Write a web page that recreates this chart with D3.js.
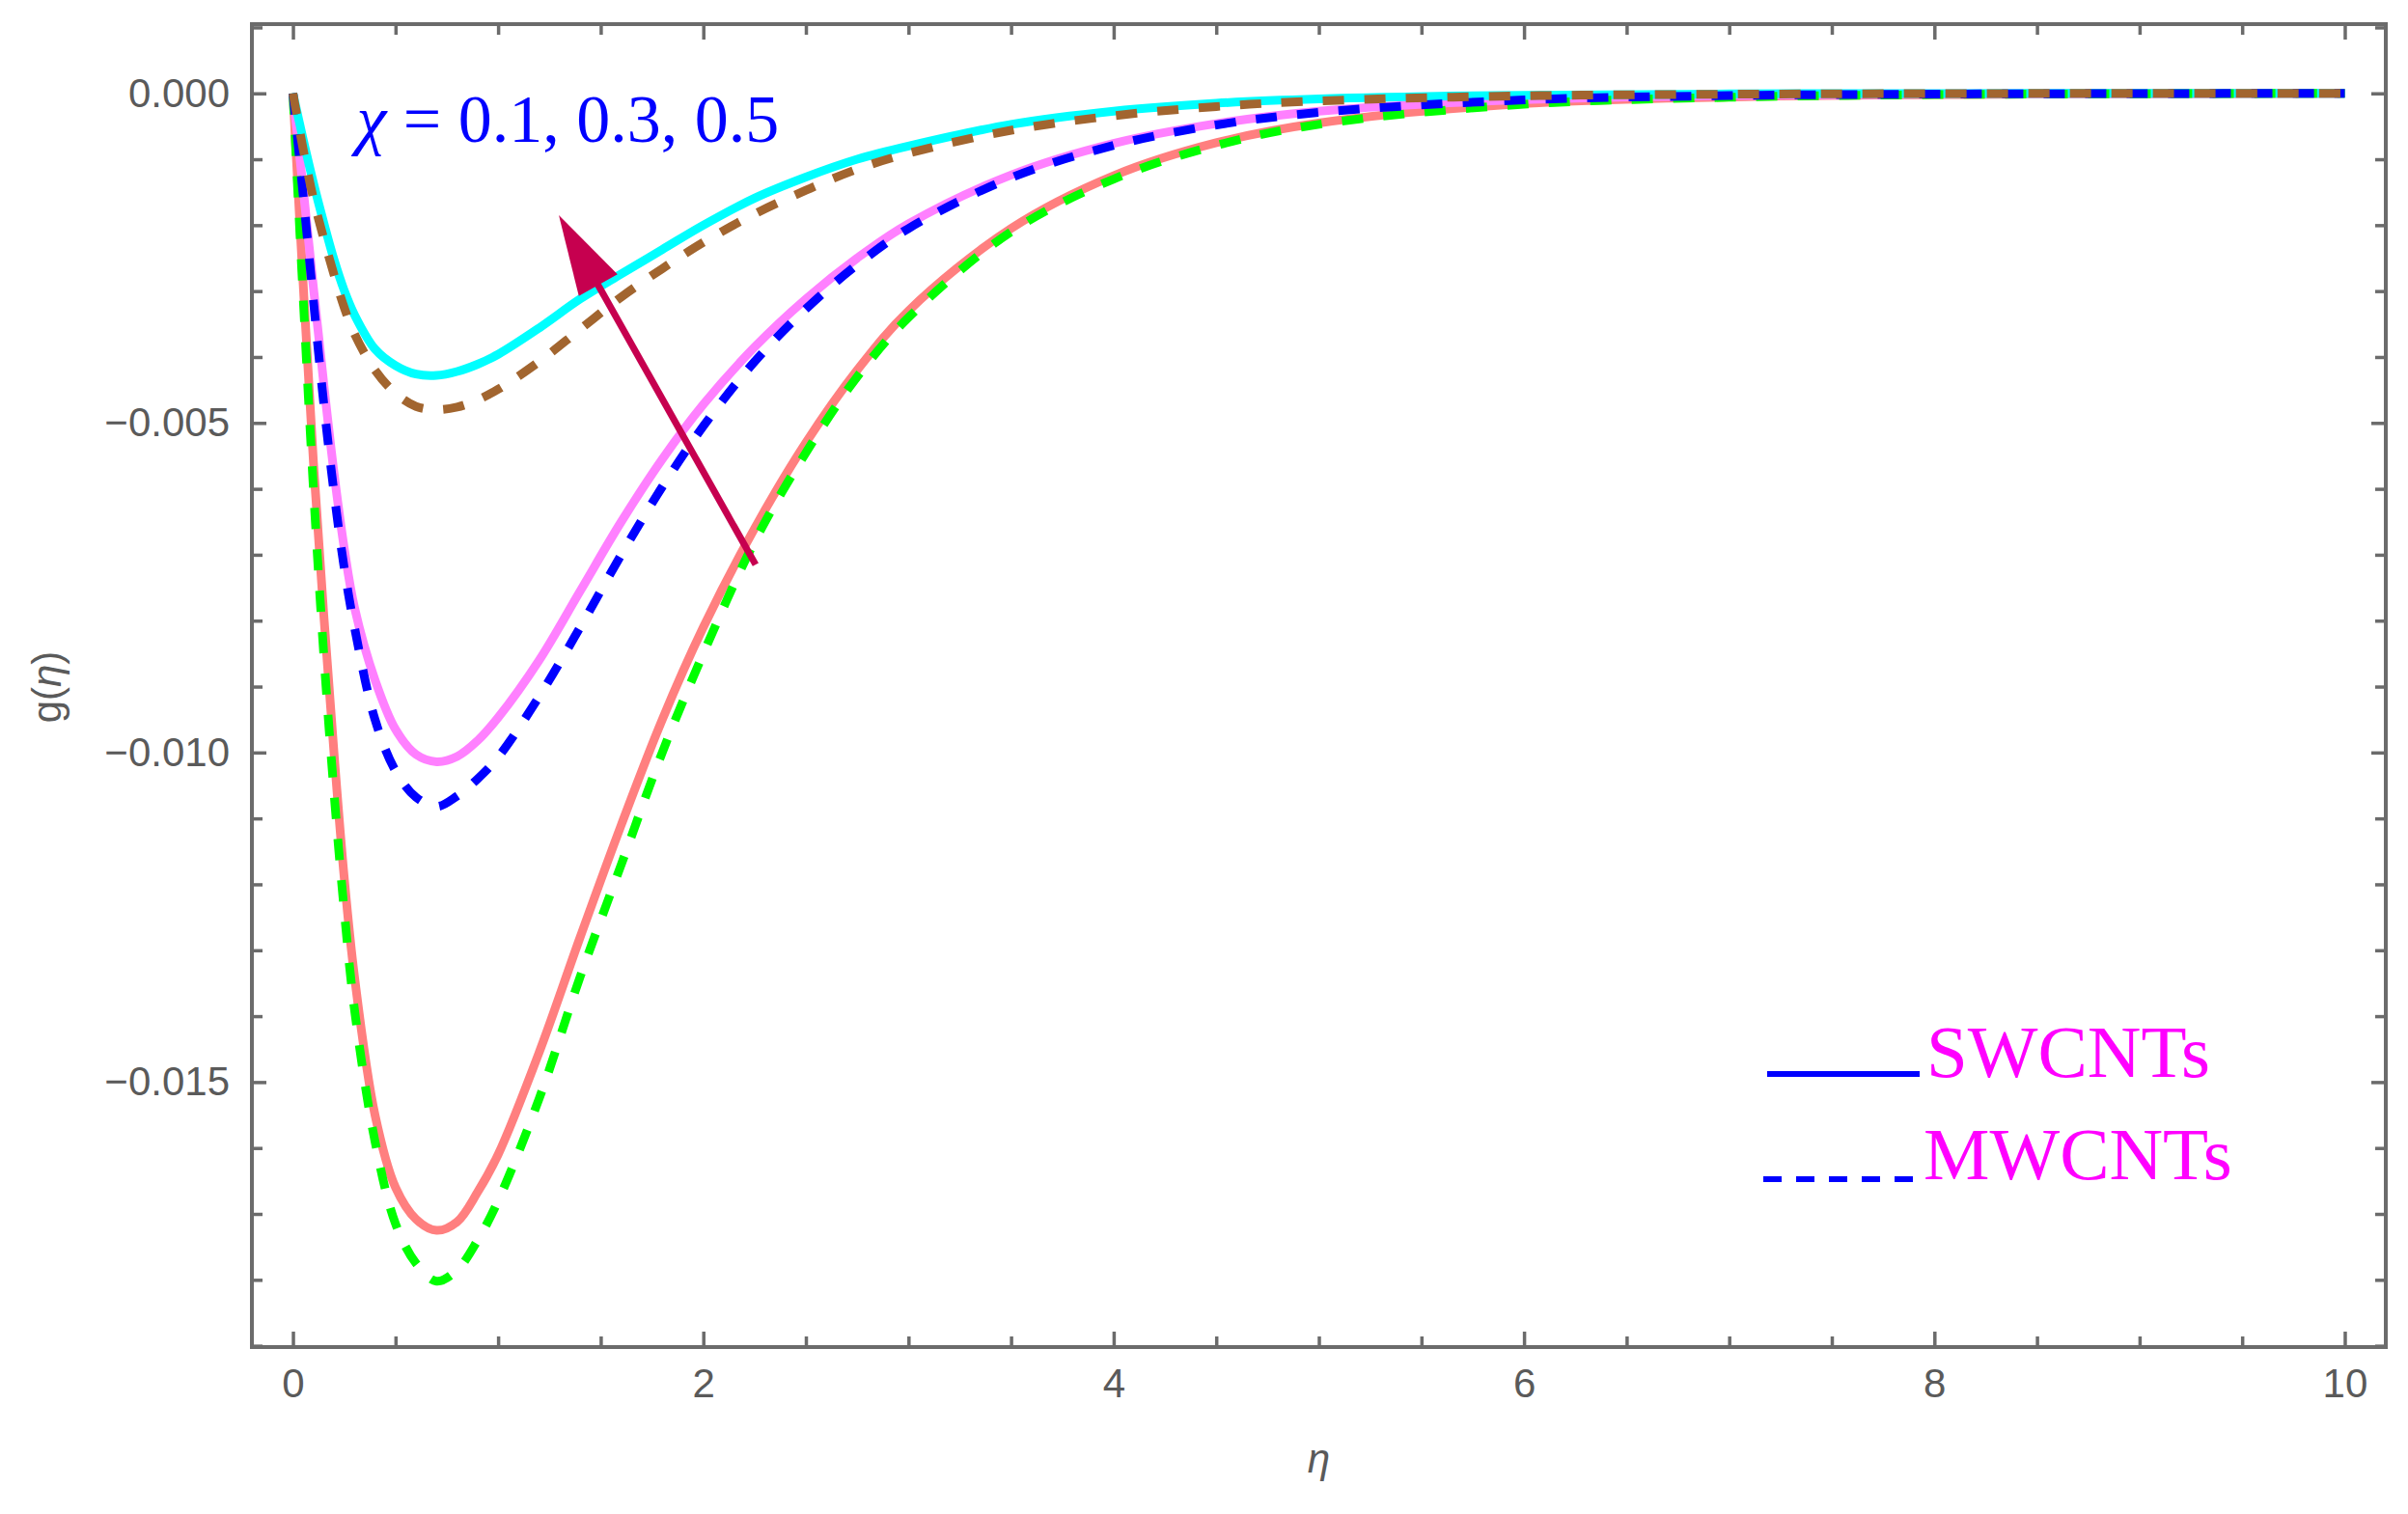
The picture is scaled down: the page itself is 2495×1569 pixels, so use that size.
<!DOCTYPE html>
<meta charset="utf-8">
<style>
body {
  margin: 0;
  background: #fff;
}
svg { display: block; }
</style>
<body>
<div id="chart"></div>
<script src="https://cdn.jsdelivr.net/npm/d3@7"></script>
<script>

var eta = [0, 0.05, 0.1, 0.15, 0.2, 0.25, 0.3, 0.4, 0.5, 0.6, 0.7, 0.8, 0.9, 1.0,
           1.2, 1.4, 1.6, 1.8, 2.0, 2.25, 2.5, 2.75, 3.0, 3.5, 4.0, 4.5, 5.0,
           6.0, 7.0, 8.0, 9.0, 10.0];

// SWCNTs (solid), chi = 0.1, 0.3, 0.5
var g_sw_01 = [0, -0.0029, -0.0056, -0.0079, -0.0100, -0.0119, -0.0134, -0.0155, -0.0166, -0.01708, -0.01725, -0.01712, -0.01667, -0.0161,
               -0.01455, -0.0128, -0.0111, -0.0095, -0.0081, -0.0066, -0.0053, -0.0042, -0.0033, -0.00205, -0.00125, -0.00075, -0.00045,
               -0.000155, -0.000055, -0.000019, -0.000006, 0];
var g_sw_03 = [0, -0.00145, -0.00295, -0.0044, -0.00575, -0.0069, -0.0078, -0.0089, -0.00965, -0.01003, -0.01014, -0.01006, -0.00982, -0.00947,
               -0.0086, -0.00755, -0.0065, -0.00555, -0.00472, -0.00385, -0.00312, -0.0025, -0.00198, -0.00124, -0.00076, -0.00046, -0.00027,
               -0.000095, -0.000033, -0.000011, -0.000004, 0];
var g_sw_05 = [0, -0.0007, -0.00136, -0.00196, -0.00252, -0.00299, -0.00336, -0.00388, -0.00413, -0.00426, -0.00428, -0.00422, -0.00411, -0.00396,
               -0.00356, -0.00312, -0.00274, -0.00237, -0.002, -0.00159, -0.00127, -0.001, -0.0008, -0.00047, -0.00027, -0.00015, -0.000085,
               -0.000028, -0.000009, -0.000003, -0.000001, 0];

// MWCNTs (dashed), chi = 0.1, 0.3, 0.5
var g_mw_01 = [0, -0.0031, -0.006, -0.0085, -0.0106, -0.0124, -0.0139, -0.0159, -0.01715, -0.01775, -0.01802, -0.01785, -0.0174, -0.0168,
               -0.01525, -0.0134, -0.0117, -0.01, -0.0085, -0.0068, -0.00545, -0.0043, -0.0034, -0.0021, -0.0013, -0.00079, -0.00047,
               -0.000165, -0.00006, -0.00002, -0.000007, 0];
var g_mw_03 = [0, -0.00155, -0.00315, -0.0047, -0.00605, -0.0072, -0.0081, -0.0095, -0.01028, -0.01068, -0.01082, -0.01066, -0.0104, -0.01007,
               -0.00915, -0.0081, -0.007, -0.00597, -0.00505, -0.00407, -0.00327, -0.0026, -0.00205, -0.00128, -0.00079, -0.00048, -0.00029,
               -0.0001, -0.000035, -0.000012, -0.000004, 0];
var g_mw_05 = [0, -0.00085, -0.0016, -0.0022, -0.00275, -0.00325, -0.00365, -0.0042, -0.00455, -0.00475, -0.0048, -0.00476, -0.00465, -0.00449,
               -0.00407, -0.00358, -0.00309, -0.00266, -0.00226, -0.00183, -0.00147, -0.00115, -0.00091, -0.00056, -0.00034, -0.0002, -0.000115,
               -0.000038, -0.000013, -0.000004, -0.000001, 0];

var xTicks = [0, 2, 4, 6, 8, 10];
var yTicks = [0, -0.005, -0.010, -0.015];
var chiLabel = "0.1, 0.3, 0.5";
var legendLabels = ["SWCNTs", "MWCNTs"];

// arrow drawn in data space: tail -> tip
var arrowFrom = [2.255, -0.00715];
var arrowTo = [1.296, -0.00185];
var chiTextAt = [0.31, -0.00074];

var width = 2495, height = 1569;
var frame = {left: 261, right: 2472, top: 25, bottom: 1396};
var frameColor = '#6b6b6b';
var labelColor = '#5a5a5a';
var sansFont = "'Liberation Sans', Arial, sans-serif";
var serifFont = "'Liberation Serif', 'Times New Roman', serif";

var x = d3.scaleLinear().domain([-0.2, 10.2]).range([frame.left, frame.right]);
var y = d3.scaleLinear().domain([0.00105, -0.01902]).range([frame.top, frame.bottom]);

var svg = d3.select('#chart').append('svg')
    .attr('width', width)
    .attr('height', height);

svg.append('rect').attr('width', width).attr('height', height).attr('fill', '#fff');

// curves: solids first, dashes on top
var series = [
  {vals: g_sw_01, color: '#ff7f7f', dash: null},
  {vals: g_sw_03, color: '#ff80ff', dash: null},
  {vals: g_sw_05, color: '#00ffff', dash: null},
  {vals: g_mw_01, color: '#00ff00', dash: '22,21'},
  {vals: g_mw_03, color: '#0000ff', dash: '22,21'},
  {vals: g_mw_05, color: '#a2652f', dash: '22,21'}
];

var line = d3.line()
    .x(function(d){ return x(d[0]); })
    .y(function(d){ return y(d[1]); })
    .curve(d3.curveCatmullRom.alpha(0.5));

series.forEach(function(s){
  var pts = eta.map(function(e, i){ return [e, s.vals[i]]; });
  svg.append('path')
    .attr('d', line(pts))
    .attr('fill', 'none')
    .attr('stroke', s.color)
    .attr('stroke-width', 9)
    .attr('stroke-dasharray', s.dash);
});

// axes, ticks pointing inside the frame
var xMinor = d3.range(0, 10.001, 0.5).filter(function(v){ return xTicks.indexOf(v) < 0; });
var yMinor = d3.range(-19, 2, 1).filter(function(v){ return v % 5 !== 0; })
    .map(function(v){ return v / 1000; });

function styleAxis(g){
  g.select('.domain').remove();
  g.selectAll('.tick line').attr('stroke', frameColor).attr('stroke-width', 3.5);
  g.attr('font-family', sansFont).attr('font-size', 42);
  g.selectAll('.tick text').attr('fill', labelColor);
}

svg.append('g').attr('transform', 'translate(0,' + frame.bottom + ')')
  .call(d3.axisBottom(x).tickValues(xTicks).tickSize(-16).tickPadding(22).tickFormat(d3.format('d')))
  .call(styleAxis);
svg.append('g').attr('transform', 'translate(0,' + frame.bottom + ')')
  .call(d3.axisBottom(x).tickValues(xMinor).tickSize(-11).tickFormat(''))
  .call(styleAxis);
svg.append('g').attr('transform', 'translate(0,' + frame.top + ')')
  .call(d3.axisTop(x).tickValues(xTicks).tickSize(-16).tickFormat(''))
  .call(styleAxis);
svg.append('g').attr('transform', 'translate(0,' + frame.top + ')')
  .call(d3.axisTop(x).tickValues(xMinor).tickSize(-11).tickFormat(''))
  .call(styleAxis);

svg.append('g').attr('transform', 'translate(' + frame.left + ',0)')
  .call(d3.axisLeft(y).tickValues(yTicks).tickSize(-15).tickPadding(23).tickFormat(d3.format('.3f')))
  .call(styleAxis);
svg.append('g').attr('transform', 'translate(' + frame.left + ',0)')
  .call(d3.axisLeft(y).tickValues(yMinor).tickSize(-11).tickFormat(''))
  .call(styleAxis);
svg.append('g').attr('transform', 'translate(' + frame.right + ',0)')
  .call(d3.axisRight(y).tickValues(yTicks).tickSize(-15).tickFormat(''))
  .call(styleAxis);
svg.append('g').attr('transform', 'translate(' + frame.right + ',0)')
  .call(d3.axisRight(y).tickValues(yMinor).tickSize(-11).tickFormat(''))
  .call(styleAxis);

// frame
svg.append('rect')
  .attr('x', frame.left).attr('y', frame.top)
  .attr('width', frame.right - frame.left).attr('height', frame.bottom - frame.top)
  .attr('fill', 'none').attr('stroke', frameColor).attr('stroke-width', 4);

// axis titles
var yt = svg.append('text')
  .attr('transform', 'translate(63,712) rotate(-90)')
  .attr('text-anchor', 'middle')
  .attr('font-family', sansFont).attr('font-size', 42).attr('fill', labelColor);
yt.append('tspan').text('g(');
yt.append('tspan').attr('font-style', 'italic').text('\u03b7');
yt.append('tspan').text(')');

svg.append('text')
  .attr('x', (frame.left + frame.right) / 2).attr('y', 1526)
  .attr('text-anchor', 'middle')
  .attr('font-family', sansFont).attr('font-size', 42).attr('font-style', 'italic')
  .attr('fill', labelColor)
  .text('\u03b7');

// chi annotation
var ct = svg.append('text')
  .attr('x', x(chiTextAt[0])).attr('y', y(chiTextAt[1]))
  .attr('font-family', serifFont).attr('font-size', 70).attr('fill', '#0000ff');
ct.append('tspan').attr('font-style', 'italic').text('\u03c7');
ct.append('tspan').text(' = ' + chiLabel);

// arrow
var ax0 = x(arrowFrom[0]), ay0 = y(arrowFrom[1]);
var ax1 = x(arrowTo[0]), ay1 = y(arrowTo[1]);
var len = Math.hypot(ax1 - ax0, ay1 - ay0);
var ux = (ax1 - ax0) / len, uy = (ay1 - ay0) / len;
var headL = 83, headW = 23;
var bx = ax1 - ux * headL, by = ay1 - uy * headL;
var arrowColor = '#c6004f';
svg.append('line')
  .attr('x1', ax0).attr('y1', ay0).attr('x2', bx + ux * 4).attr('y2', by + uy * 4)
  .attr('stroke', arrowColor).attr('stroke-width', 7);
svg.append('path')
  .attr('d', 'M' + ax1 + ',' + ay1 +
             'L' + (bx - uy * headW) + ',' + (by + ux * headW) +
             'L' + (bx + uy * headW) + ',' + (by - ux * headW) + 'Z')
  .attr('fill', arrowColor);

// legend
var lg = svg.append('g');
lg.append('line').attr('x1', 1831).attr('x2', 1989).attr('y1', 1113).attr('y2', 1113)
  .attr('stroke', '#0000ff').attr('stroke-width', 6);
lg.append('line').attr('x1', 1827).attr('x2', 1984).attr('y1', 1222).attr('y2', 1222)
  .attr('stroke', '#0000ff').attr('stroke-width', 6).attr('stroke-dasharray', '19,15');
lg.append('text').attr('x', 1996).attr('y', 1116)
  .attr('font-family', serifFont).attr('font-size', 77).attr('fill', '#ff00ff')
  .text(legendLabels[0]);
lg.append('text').attr('x', 1993).attr('y', 1222)
  .attr('font-family', serifFont).attr('font-size', 77).attr('fill', '#ff00ff')
  .text(legendLabels[1]);

</script>
